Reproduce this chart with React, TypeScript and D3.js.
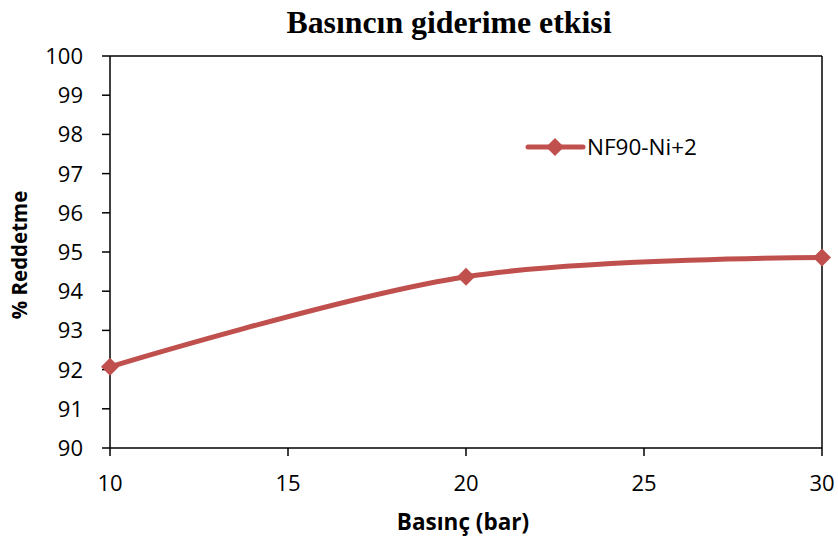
import React from "react";
import * as d3 from "d3";

const pressures = [10, 20, 30];
const rejection = [92.07, 94.37, 94.86];
const xTicks = [10, 15, 20, 25, 30];
const yTicks = [90, 91, 92, 93, 94, 95, 96, 97, 98, 99, 100];
const seriesName = "NF90-Ni+2";
const title = "Basıncın giderime etkisi";
const xTitle = "Basınç (bar)";
const yTitle = "% Reddetme";

const W = 838;
const H = 539;
const margin = { left: 110, right: 16, top: 56, bottom: 91 };
const color = "#C0504D";
const sans = "'Open Sans', 'Liberation Sans', sans-serif";

export default function App() {
  const x = d3.scaleLinear().domain([10, 30]).range([margin.left, W - margin.right]);
  const y = d3.scaleLinear().domain([90, 100]).range([H - margin.bottom, margin.top]);
  const pts: [number, number][] = pressures.map((p, i) => [x(p), y(rejection[i])]);
  const line = d3.line().curve(d3.curveCardinal.tension(0))(pts) || "";
  const diamond = (cx: number, cy: number, r: number) =>
    `M${cx},${cy - r}L${cx + r},${cy}L${cx},${cy + r}L${cx - r},${cy}Z`;
  const x0 = margin.left, x1 = W - margin.right, y0 = H - margin.bottom, y1 = margin.top;

  return (
    <svg width={W} height={H} style={{ position: "absolute", left: 0, top: 0, background: "#fff" }}>
      <rect x={0} y={0} width={W} height={H} fill="#fff" />
      <text x={449} y={33} textAnchor="middle" fontFamily="'Liberation Serif', 'Times New Roman', serif" fontWeight="bold" fontSize={31.8}>{title}</text>
      {/* axes frame */}
      <line x1={x0} x2={x1} y1={y1} y2={y1} stroke="#000" strokeWidth={1.5} />
      <line x1={x1} x2={x1} y1={y1} y2={y0} stroke="#000" strokeWidth={1.5} />
      <line x1={x0} x2={x1} y1={y0} y2={y0} stroke="#000" strokeWidth={1.5} />
      <line x1={x0} x2={x0} y1={y1} y2={y0} stroke="#000" strokeWidth={1.5} />
      {yTicks.map((t) => (
        <g key={t}>
          <line x1={x0 - 8} x2={x0} y1={y(t)} y2={y(t)} stroke="#000" strokeWidth={1.5} />
          <text x={x0 - 27} y={y(t)} dy="0.36em" textAnchor="end" fontFamily={sans} fontSize={22}>{t}</text>
        </g>
      ))}
      {xTicks.map((t) => (
        <g key={t}>
          <line x1={x(t)} x2={x(t)} y1={y0} y2={y0 + 8} stroke="#000" strokeWidth={1.5} />
          <text x={x(t)} y={491} textAnchor="middle" fontFamily={sans} fontSize={22}>{t}</text>
        </g>
      ))}
      <text x={463} y={530} textAnchor="middle" fontFamily={sans} fontWeight="bold" fontSize={22.5}>{xTitle}</text>
      <text transform={`translate(27,255) rotate(-90)`} textAnchor="middle" fontFamily={sans} fontWeight="bold" fontSize={20.5}>{yTitle}</text>
      <path d={line} fill="none" stroke={color} strokeWidth={5} strokeLinejoin="round" />
      {pts.map(([cx, cy], i) => (
        <path key={i} d={diamond(cx, cy, 9)} fill={color} />
      ))}
      {/* legend */}
      <line x1={528} x2={583} y1={147} y2={147} stroke={color} strokeWidth={5} strokeLinecap="round" />
      <path d={diamond(555, 147, 9)} fill={color} />
      <text x={587} y={147} dy="0.36em" fontFamily={sans} fontSize={22.5}>{seriesName}</text>
    </svg>
  );
}
